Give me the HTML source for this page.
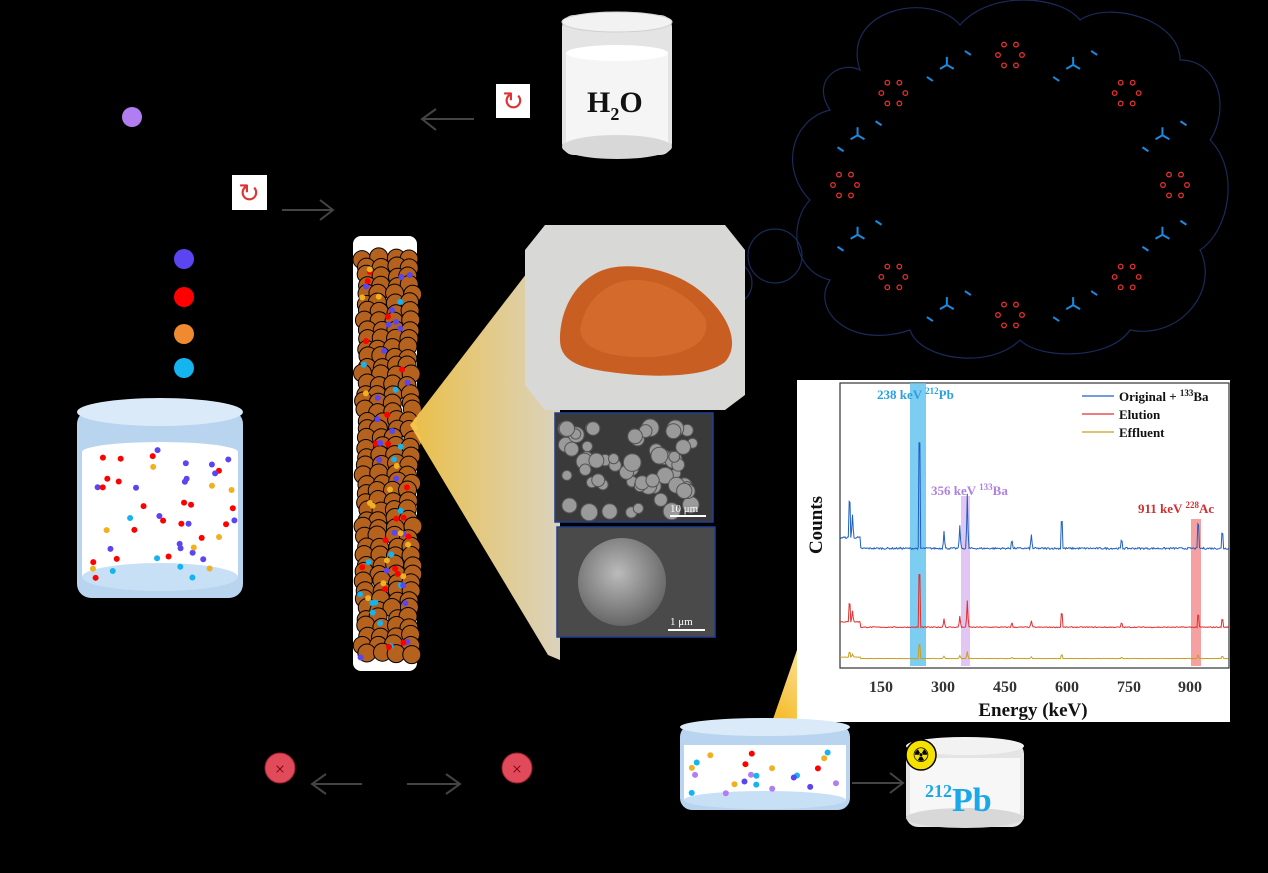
<!DOCTYPE html>
<html><head><style>
html,body{margin:0;padding:0;background:#000;}
body{width:1268px;height:873px;overflow:hidden;position:relative;font-family:"Liberation Serif",serif;}
</style></head><body>
<svg id="s" width="1268" height="873" xmlns="http://www.w3.org/2000/svg" style="position:absolute;left:0;top:0">
<defs>
<linearGradient id="beam" x1="0" y1="0" x2="1" y2="0"><stop offset="0" stop-color="#f7c84a"/><stop offset="1" stop-color="#fff6dc" stop-opacity="0.9"/></linearGradient>
<linearGradient id="beam2" x1="0" y1="1" x2="1" y2="0"><stop offset="0" stop-color="#f5b820"/><stop offset="1" stop-color="#fff3d0"/></linearGradient>
<radialGradient id="sph" cx="0.45" cy="0.4" r="0.6"><stop offset="0" stop-color="#bbb"/><stop offset="1" stop-color="#666"/></radialGradient>
</defs>
<!-- cloud -->
<g fill="none" stroke="#1a2a5a" stroke-width="1.2">
<path d="M860,70 C840,10 930,-10 960,25 C990,-10 1060,-5 1080,20 C1110,0 1180,20 1180,60 C1220,60 1230,110 1210,140 C1240,170 1230,230 1200,250 C1220,290 1180,340 1130,330 C1110,360 1040,360 1020,340 C990,370 920,360 910,330 C850,350 810,310 830,280 C790,270 790,220 810,200 C780,170 790,120 830,110 C810,80 840,60 860,70 Z"/>
<circle cx="775" cy="256" r="27"/><circle cx="730" cy="283" r="22"/>
</g>
<g id="cloudmarks"></g>
<!-- H2O beaker -->
<rect x="562" y="15" width="110" height="140" rx="12" fill="#e4e4e4"/>
<ellipse cx="617" cy="22" rx="55" ry="10" fill="#f2f2f2" stroke="#d0d0d0"/>
<rect x="566" y="52" width="102" height="95" fill="#f5f5f5"/>
<ellipse cx="617" cy="53" rx="51" ry="8" fill="#fff"/>
<ellipse cx="617" cy="147" rx="55" ry="12" fill="#d8d8d8"/>
<text x="587" y="112" font-size="30" font-weight="bold" fill="#111">H<tspan font-size="18" dy="8">2</tspan><tspan dy="-8">O</tspan></text>
<!-- recycle icons -->
<rect x="496" y="84" width="34" height="34" fill="#fff"/>
<text x="513" y="110" font-size="26" fill="#d33" text-anchor="middle">↻</text>
<rect x="232" y="175" width="35" height="35" fill="#fff"/>
<text x="249" y="202" font-size="26" fill="#d33" text-anchor="middle">↻</text>
<!-- arrows -->
<g stroke="#444" stroke-width="2" fill="none">
<path d="M474,119 H422 M436,109 L422,119 L436,130"/>
<path d="M282,210 H333 M320,200 L333,210 L320,220"/>
<path d="M362,784 H312 M326,774 L312,784 L326,794"/>
<path d="M407,784 H460 M446,774 L460,784 L446,794"/>
<path d="M852,783 H903 M890,773 L903,783 L890,793"/>
</g>
<circle cx="132" cy="117" r="10" fill="#b07ef0"/>
<circle cx="184" cy="259" r="10" fill="#5b45f0"/>
<circle cx="184" cy="297" r="10" fill="#f00"/>
<circle cx="184" cy="334" r="10" fill="#f08a30"/>
<circle cx="184" cy="368" r="10" fill="#14b4ee"/>
<!-- left beaker -->
<rect x="77" y="410" width="166" height="188" rx="14" fill="#b8d4ee"/>
<ellipse cx="160" cy="412" rx="83" ry="14" fill="#dbeaf8"/>
<rect x="82" y="452" width="156" height="125" fill="#fff"/>
<ellipse cx="160" cy="452" rx="78" ry="10" fill="#fff"/>
<ellipse cx="160" cy="577" rx="78" ry="14" fill="#c8e0f5"/>
<g id="lb"></g>
<!-- column -->
<rect x="353" y="236" width="64" height="435" rx="8" fill="#fff"/>
<g id="col"></g>
<!-- beams -->
<polygon points="410,425 560,230 560,660 548,655" fill="url(#beam)" opacity="0.95"/>
<!-- photo -->
<path d="M545,225 L725,225 L745,250 L745,395 L725,410 L545,410 L525,385 L525,250 Z" fill="#d8d8d6"/>
<path d="M560,340 C560,305 580,275 610,268 C640,262 680,272 705,295 C730,318 740,345 725,362 C705,378 650,378 610,372 C578,368 560,360 560,340 Z" fill="#c95e22"/>
<path d="M580,330 C585,300 605,283 630,280 C660,278 690,295 705,318 C712,340 690,355 650,357 C610,358 582,350 580,330 Z" fill="#d46a2c"/>
<!-- SEM -->
<rect x="555" y="413" width="158" height="109" fill="#3a3a3a" stroke="#1f3f8f" stroke-width="1.5"/>
<g id="sem1"></g>
<line x1="670" y1="516" x2="706" y2="516" stroke="#fff" stroke-width="2"/>
<text x="670" y="512" font-size="11" fill="#fff">10 μm</text>
<rect x="557" y="527" width="158" height="110" fill="#4a4a4a" stroke="#1f3f8f" stroke-width="1.5"/>
<circle cx="622" cy="582" r="44" fill="url(#sph)"/>
<line x1="668" y1="630" x2="705" y2="630" stroke="#fff" stroke-width="2"/>
<text x="670" y="625" font-size="11" fill="#fff">1 μm</text>
<!-- plot beam -->
<polygon points="772,722 797,650 850,712 850,722" fill="url(#beam2)"/>
<!-- plot -->
<rect x="797" y="380" width="433" height="342" fill="#fff"/>
<rect x="840" y="383" width="389" height="285" fill="#fff" stroke="#333" stroke-width="1.2"/>
<rect x="910" y="383" width="16" height="283" fill="#5cc0f0" opacity="0.8"/>
<rect x="961" y="496" width="9" height="170" fill="#d9b8f0" opacity="0.8"/>
<rect x="1191" y="519" width="10" height="147" fill="#f28a8a" opacity="0.8"/>
<g id="spec"></g>
<text x="877" y="399" font-size="13" font-weight="bold" fill="#2aa0e0">238 keV <tspan font-size="9" dy="-5">212</tspan><tspan dy="5">Pb</tspan></text>
<text x="931" y="495" font-size="13" font-weight="bold" fill="#b080e0">356 keV <tspan font-size="9" dy="-5">133</tspan><tspan dy="5">Ba</tspan></text>
<text x="1138" y="513" font-size="13" font-weight="bold" fill="#d03030">911 keV <tspan font-size="9" dy="-5">228</tspan><tspan dy="5">Ac</tspan></text>
<line x1="1082" y1="396" x2="1114" y2="396" stroke="#2060c0" stroke-width="1.3"/>
<line x1="1082" y1="414" x2="1114" y2="414" stroke="#e03030" stroke-width="1.3"/>
<line x1="1082" y1="432" x2="1114" y2="432" stroke="#c8a020" stroke-width="1.3"/>
<text x="1119" y="401" font-size="13" font-weight="bold" fill="#111">Original + <tspan font-size="9" dy="-5">133</tspan><tspan dy="5">Ba</tspan></text>
<text x="1119" y="419" font-size="13" font-weight="bold" fill="#111">Elution</text>
<text x="1119" y="437" font-size="13" font-weight="bold" fill="#111">Effluent</text>
<text x="822" y="525" font-size="19" font-weight="bold" fill="#111" text-anchor="middle" transform="rotate(-90 822 525)">Counts</text>
<g font-size="16" font-weight="bold" fill="#333" text-anchor="middle">
<text x="881" y="692">150</text><text x="943" y="692">300</text><text x="1005" y="692">450</text><text x="1067" y="692">600</text><text x="1129" y="692">750</text><text x="1190" y="692">900</text>
</g>
<text x="1033" y="716" font-size="19" font-weight="bold" fill="#111" text-anchor="middle">Energy (keV)</text>
<!-- bottom beaker -->
<rect x="680" y="725" width="170" height="85" rx="12" fill="#b8d4ee"/>
<ellipse cx="765" cy="727" rx="85" ry="9" fill="#dbeaf8"/>
<rect x="684" y="745" width="162" height="55" fill="#fff"/>
<ellipse cx="765" cy="800" rx="81" ry="9" fill="#c8e0f5"/>
<g id="bb"></g>
<!-- Pb beaker -->
<rect x="906" y="742" width="118" height="85" rx="12" fill="#e4e4e4"/>
<ellipse cx="965" cy="746" rx="59" ry="9" fill="#f2f2f2"/>
<rect x="910" y="758" width="110" height="60" fill="#f7f7f7"/>
<ellipse cx="965" cy="818" rx="59" ry="10" fill="#d8d8d8"/>
<text x="925" y="811" font-size="34" font-weight="bold" fill="#1aa8e8"><tspan font-size="18" dy="-14">212</tspan><tspan dy="14">Pb</tspan></text>
<circle cx="921" cy="755" r="15" fill="#f5e000" stroke="#000" stroke-width="1.5"/>
<text x="921" y="762" font-size="20" text-anchor="middle" fill="#000">☢</text>
<!-- x marks -->
<circle cx="280" cy="768" r="15" fill="#e04a5a" stroke="#a02030"/>
<text x="280" y="775" font-size="18" fill="#700" text-anchor="middle">×</text>
<circle cx="517" cy="768" r="15" fill="#e04a5a" stroke="#a02030"/>
<text x="517" y="775" font-size="18" fill="#700" text-anchor="middle">×</text>
</svg>
<script>
var NS="http://www.w3.org/2000/svg";
var seed=7;function r(){seed=(seed*16807)%2147483647;return seed/2147483647;}
function c(g,x,y,rad,fill,st,sw){var e=document.createElementNS(NS,"circle");e.setAttribute("cx",x);e.setAttribute("cy",y);e.setAttribute("r",rad);e.setAttribute("fill",fill);if(st){e.setAttribute("stroke",st);e.setAttribute("stroke-width",sw||"1");}document.getElementById(g).appendChild(e);}
function ln(g,x1,y1,x2,y2,col){var e=document.createElementNS(NS,"line");e.setAttribute("x1",x1);e.setAttribute("y1",y1);e.setAttribute("x2",x2);e.setAttribute("y2",y2);e.setAttribute("stroke",col);e.setAttribute("stroke-width","2");document.getElementById(g).appendChild(e);}
var cols=["#5b45f0","#f00","#f0b020","#14b4ee","#b07ef0"];
for(var y=256;y<660;y+=9){for(var i=0;i<4;i++){c("col",362+i*15+r()*6,y+r()*4,9,"#b5621e","#000");}}
for(var k=0;k<70;k++)c("col",360+r()*50,260+r()*400,3,cols[Math.floor(r()*4)]);
for(var k=0;k<50;k++)c("lb",90+r()*145,450+r()*130,3,cols[[0,0,1,1,2,3][Math.floor(r()*6)]]);
for(var k=0;k<22;k++)c("bb",690+r()*150,750+r()*45,3,cols[Math.floor(r()*5)]);
for(var k=0;k<60;k++)c("sem1",565+r()*130,425+r()*90,5+r()*4,"#9a9a9a","#555");
var cx=1010,cy=185,rx=165,ry=130;
for(var i=0;i<16;i++){var a=i/16*Math.PI*2;var x=cx+Math.cos(a)*rx,y=cy+Math.sin(a)*ry;
 if(i%2==0){for(var j=0;j<6;j++){var b=j/6*Math.PI*2;c("cloudmarks",x+Math.cos(b)*12,y+Math.sin(b)*12,2.3,"none","#e53030","1.3");}}
 else{for(var j=0;j<3;j++){var b=j/3*Math.PI*2-Math.PI/2;ln("cloudmarks",x,y,x+Math.cos(b)*8,y+Math.sin(b)*8,"#1a8ae0");}
  ln("cloudmarks",x+18,y-14,x+24,y-10,"#1a8ae0");ln("cloudmarks",x-20,y+12,x-14,y+16,"#1a8ae0");}}
function spec(base,scale,col){var d="";var peaks=[[73,60],[80,25],[241,175],[300,20],[338,25],[356,60],[583,45],[911,40],[969,25],[510,15],[463,12],[727,12]];
for(var e=50;e<=985;e+=2){var v=(e<100?15:3)+r()*2;for(var p=0;p<peaks.length;p++){var dd=Math.abs(e-peaks[p][0]);if(dd<3)v+=peaks[p][1]*(1-dd/3);}
var x=840+(e-50)*389/935;var y=base-v*scale;d+=(d?"L":"M")+x.toFixed(1)+","+y.toFixed(1);}
var p=document.createElementNS(NS,"path");p.setAttribute("d",d);p.setAttribute("stroke",col);p.setAttribute("fill","none");p.setAttribute("stroke-width","1");document.getElementById("spec").appendChild(p);}
spec(552,0.9,"#2060c0");spec(629,0.45,"#e03030");spec(659,0.12,"#c8a020");
</script>
</body></html>
